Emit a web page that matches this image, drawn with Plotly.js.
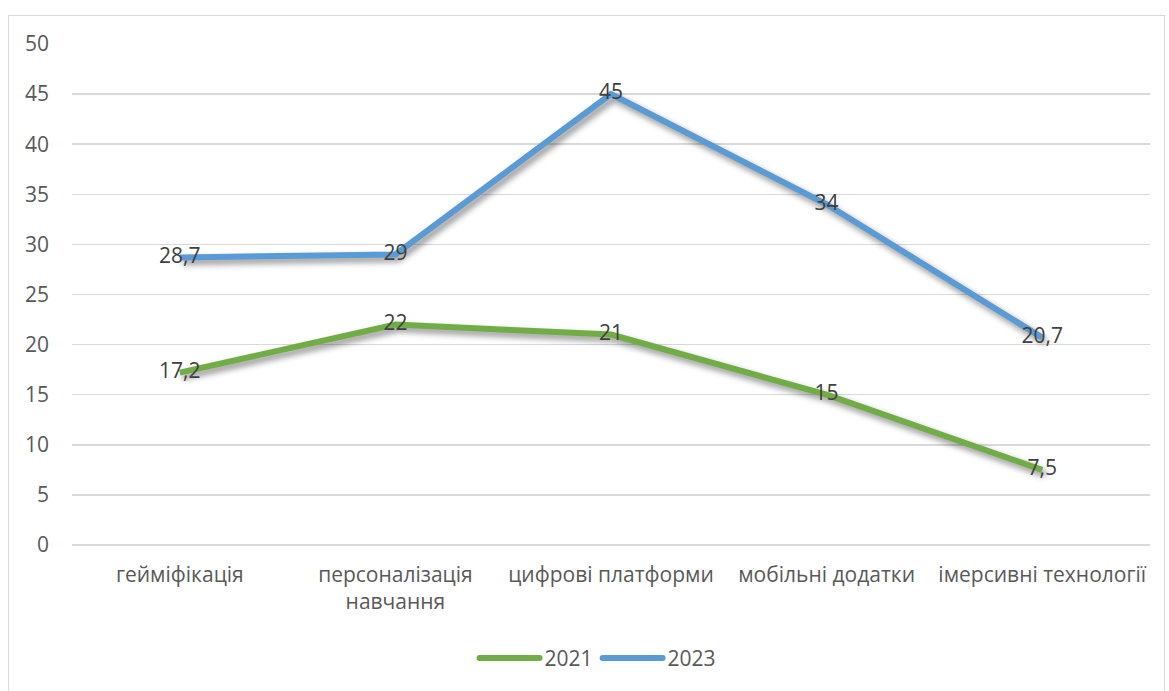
<!DOCTYPE html>
<html><head><meta charset="utf-8">
<script src="https://cdn.plot.ly/plotly-3.0.1.min.js"></script>
<style>
body{margin:0;background:#fff;}
#frame{position:absolute;left:8px;top:15px;width:1157px;height:690px;border:1.5px solid #d9d9d9;box-sizing:border-box;}
#chart{position:absolute;left:0;top:0;width:1169px;height:691px;}
.scatterlayer .js-line{filter:drop-shadow(3px 4px 3px rgba(0,0,0,0.45));}
.legend .legendlines path{stroke-linecap:round;}
</style>
</head><body>
<div id="frame"></div>
<div id="chart"></div>
<script>
const categories = ["гейміфікація", "персоналізація<br>навчання", "цифрові платформи", "мобільні додатки", "імерсивні технології"];
const values2021 = [17.2, 22, 21, 15, 7.5];
const values2023 = [28.7, 29, 45, 34, 20.7];
const labels2021 = ["17,2", "22", "21", "15", "7,5"];
const labels2023 = ["28,7", "29", "45", "34", "20,7"];
const yTicks = [0,5,10,15,20,25,30,35,40,45,50];

const font = "Open Sans, Noto Sans, Liberation Sans, sans-serif";
function tr(name, y, labels, color){
  return {type:"scatter", mode:"lines+text", name:name, x:categories, y:y,
    text:labels, textposition:"middle center",
    textfont:{family:font, size:21, color:"#404040"},
    line:{color:color, width:6, shape:"linear"}, cliponaxis:false, hoverinfo:"skip"};
}
const data = [tr("2021", values2021, labels2021, "#70AD47"), tr("2023", values2023, labels2023, "#5B9BD5")];
const layout = {
  width:1169, height:691, paper_bgcolor:"rgba(0,0,0,0)", plot_bgcolor:"rgba(0,0,0,0)",
  margin:{l:72, r:19, t:44, b:144},
  showlegend:true,
  legend:{orientation:"h", x:0.488, xanchor:"center", y:-0.226, yanchor:"middle",
    font:{family:font, size:21, color:"#595959"}, itemwidth:60, tracegroupgap:0},
  xaxis:{type:"category", range:[-0.5,4.5], showgrid:false, zeroline:false, showline:false, ticks:"",
    tickfont:{family:font, size:21, color:"#595959"}, ticklabelstandoff:15, fixedrange:true, automargin:false},
  yaxis:{range:[0,50], tickvals:yTicks, ticktext:yTicks.map(String), showgrid:true, gridcolor:"#d9d9d9", gridwidth:1.5,
    zeroline:true, zerolinecolor:"#d9d9d9", zerolinewidth:1.5, showline:false, ticks:"",
    tickfont:{family:font, size:21, color:"#595959"}, ticklabelstandoff:22, fixedrange:true, automargin:false}
};
Plotly.newPlot("chart", data, layout, {displayModeBar:false, staticPlot:true});
</script>
</body></html>
